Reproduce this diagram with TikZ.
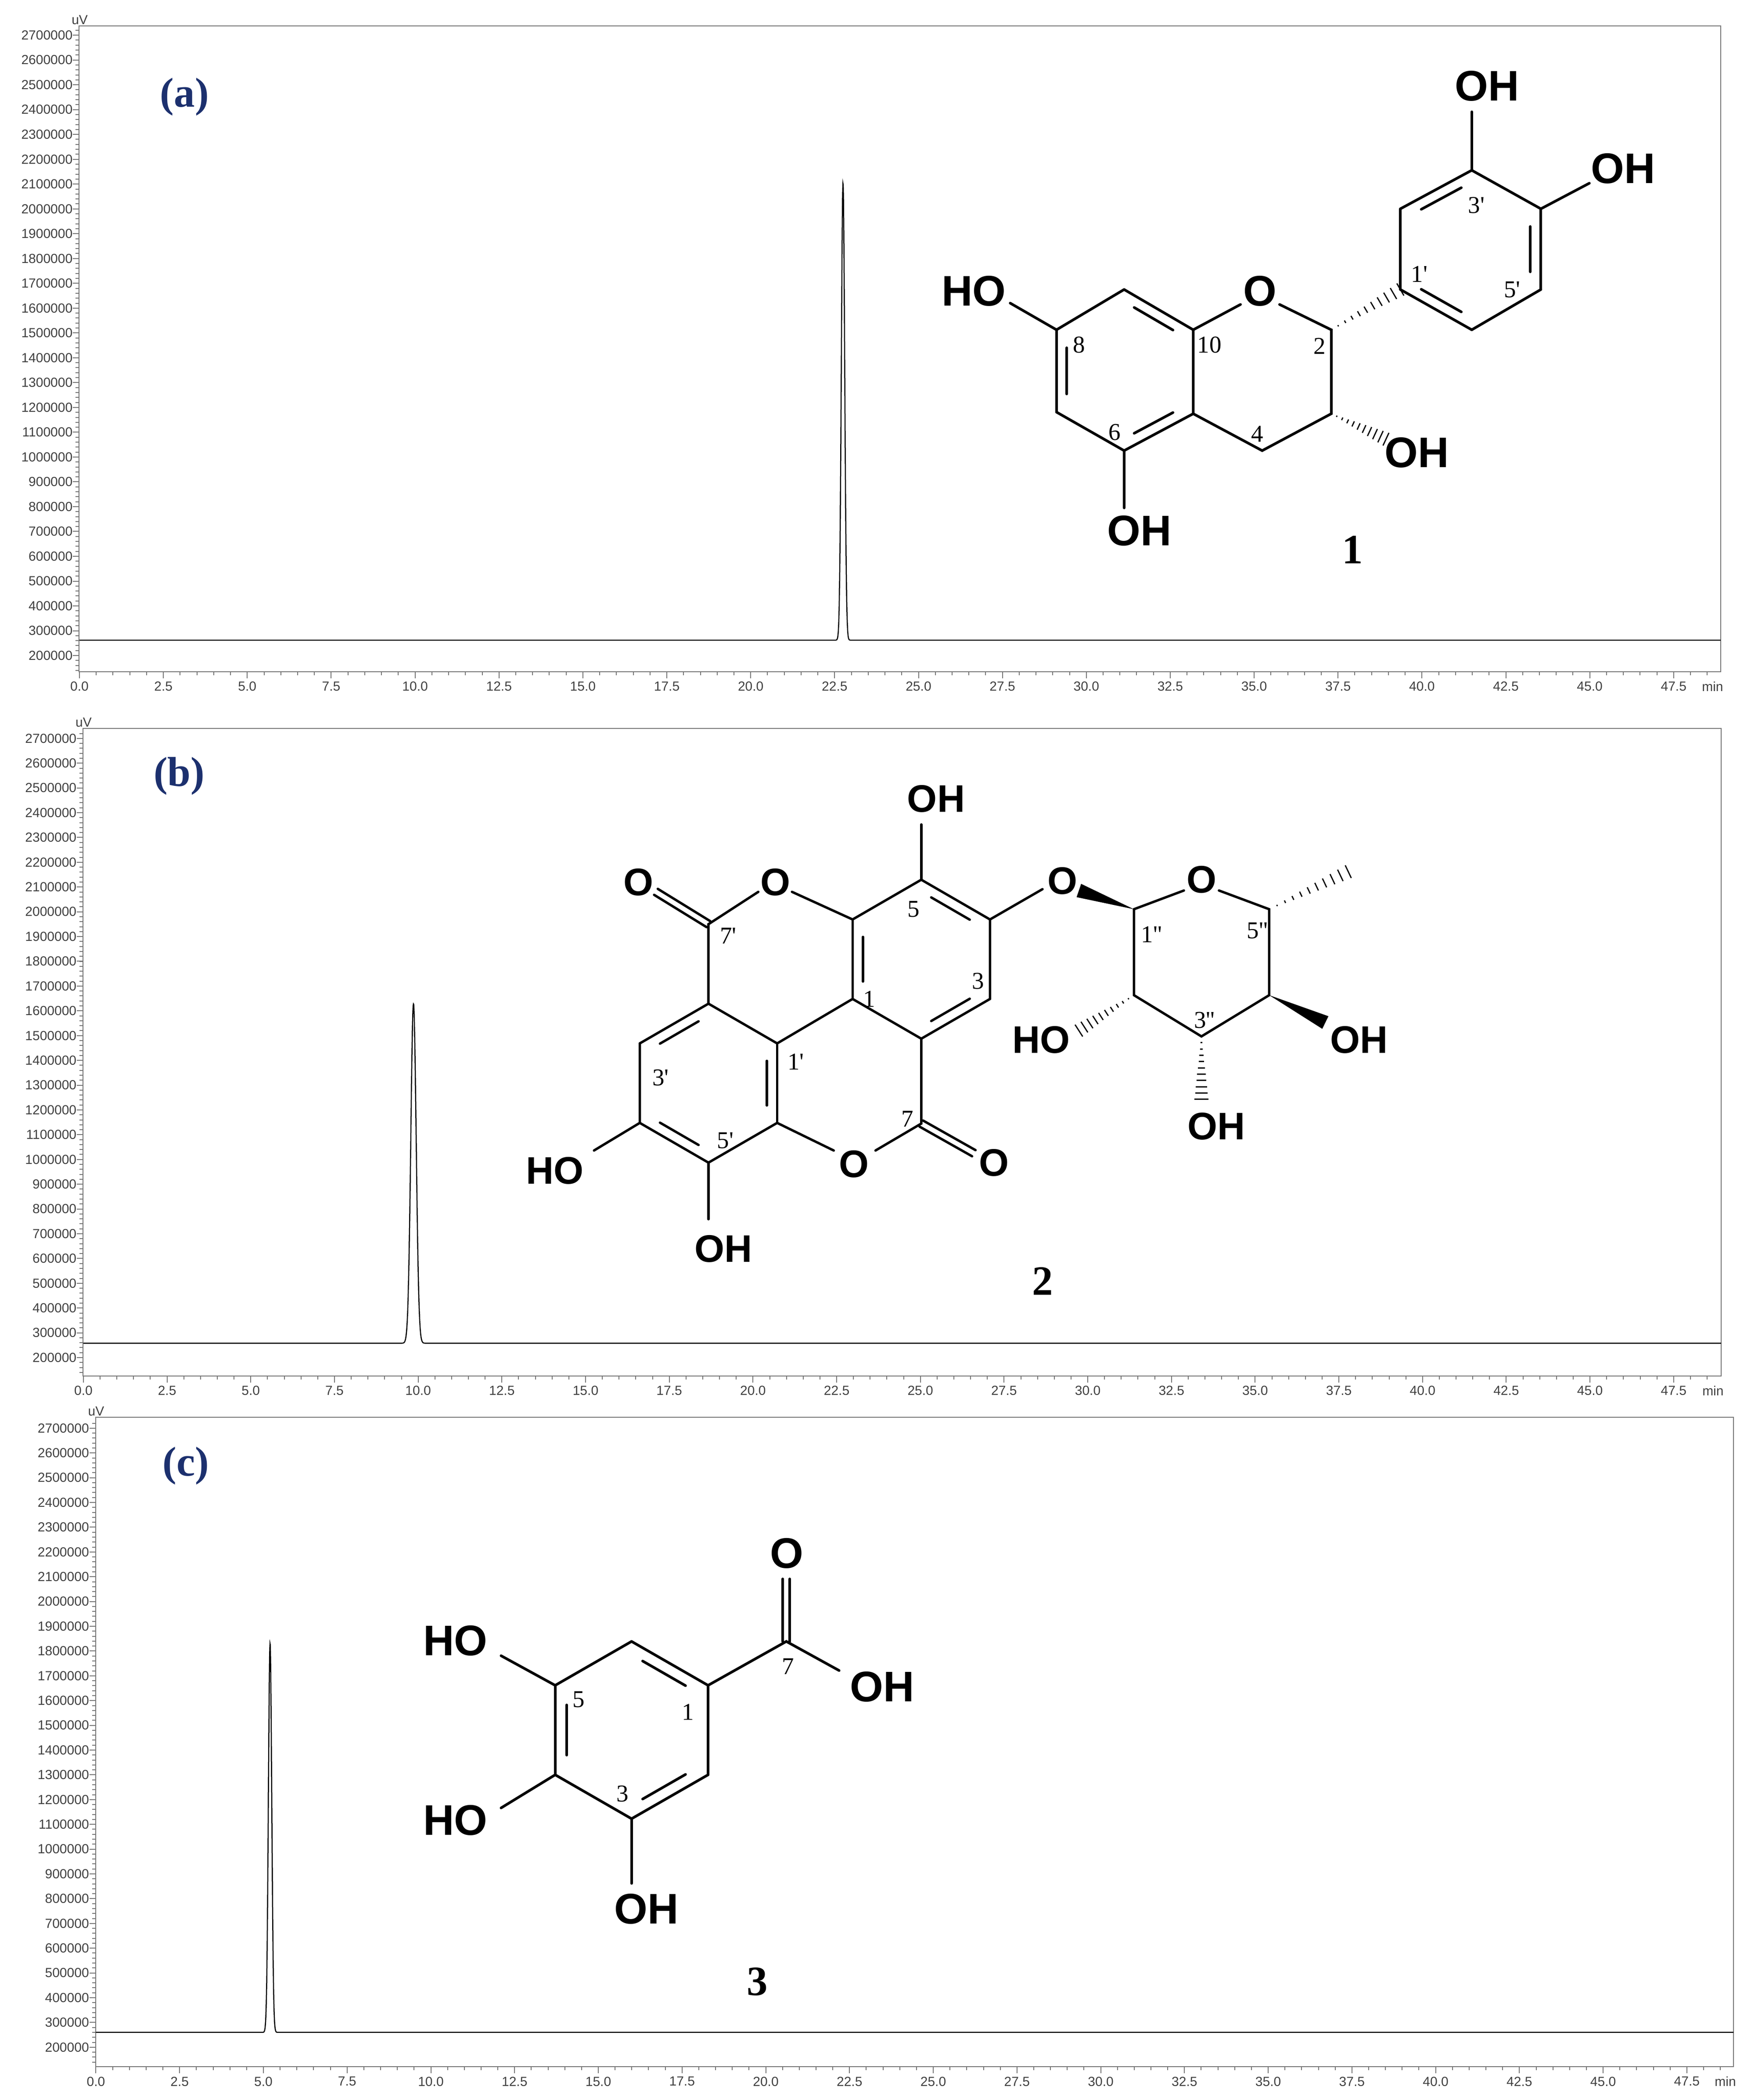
\documentclass[tikz,border=0pt]{standalone}
\usepackage{fontspec}
\setmainfont{Liberation Serif}
\newfontfamily\arialf{Liberation Sans}
\usetikzlibrary{calc}
\definecolor{navy}{RGB}{28,48,110}
\newcommand\pr{\textquotesingle}
\newcommand\chrom[9]{%
 \pgfmathsetmacro\ys{(#6-#5)/25}%
 \pgfmathsetmacro\xs{(#8-#7)/47.5}%
 \draw[frame] (#1,#3) rectangle (#2,#4);
 \foreach \v in {2,...,27}{\pgfmathsetmacro\yy{#5+(27-\v)*\ys}
   \draw[frame] (#1,\yy) -- ++(-4.5,0);
   \node[ticklab,anchor=east] at (#1-4.5,\yy) {\v00000};}
 \foreach \i in {0,...,129}{\pgfmathsetmacro\yy{#5+(27-1.4-\i*0.2)*\ys}
   \draw[frame] (#1,\yy) -- ++(-2.5,0);}
 \foreach \j in {0,...,19}{\pgfmathsetmacro\tv{2.5*\j}\pgfmathsetmacro\X{#7+\tv*\xs}
   \draw[frame] (\X,#4) -- ++(0,5);
   \node[ticklab] at (\X,#4+11) {\pgfmathprintnumber[fixed,fixed zerofill,precision=1,assume math mode=true]{\tv}};}
 \foreach \j in {0,...,97}{\pgfmathsetmacro\X{#7+0.5*\j*\xs}
   \draw[frame] (\X,#4) -- ++(0,2.7);}
 \node[ticklab] at (#2-6,#4+11) {min};
 \node[ticklab] at (#1+0.5,#3-4.5) {uV};
 \pgfmathsetmacro\yb{#5+(27-\pkb)*\ys}%
 \pgfmathsetmacro\pa{#9-0.6}\pgfmathsetmacro\pb{#9+0.6}%
 \draw[trace] (#7,\yb) -- ({#7+\pa*\xs},\yb)
   -- plot[domain=\pa:\pb,samples=181] ({#7+\x*\xs},{#5+(27-\pkb-\pkh*exp(-((\x-#9)^2)/(2*\pks*\pks)))*\ys})
   -- (#2,\yb);
}
\newcommand\dbl[3]{\draw[bond] (#1) -- (#2); \draw[bond] ($(#1)!0.17!(#2)!0.15!(#3)$) -- ($(#2)!0.17!(#1)!0.15!(#3)$);}
\newcommand\dblc[2]{\draw[bond] ($(#1)!1.6pt!90:(#2)$) -- ($(#2)!1.6pt!-90:(#1)$); \draw[bond] ($(#1)!1.6pt!-90:(#2)$) -- ($(#2)!1.6pt!90:(#1)$);}
\newcommand\hashb[3]{\foreach \t in {0.1,0.2,...,1.01}{\path ($(#1)!\t!(#2)$) coordinate (hp); \draw[line width=0.55pt] ($(hp)!{\t*#3}!90:(#1)$) -- ($(hp)!{\t*#3}!-90:(#1)$);}}
\newcommand\wedgeb[3]{\fill (#1) -- ($(#2)!#3!90:(#1)$) -- ($(#2)!#3!-90:(#1)$) -- cycle;}
\begin{document}
\begin{tikzpicture}[x=0.6137pt,y=-0.6137pt,
 frame/.style={draw=black!55,line width=0.4pt},
 trace/.style={draw=black,line width=0.5pt},
 ticklab/.style={font=\arialf\fontsize{6}{6}\selectfont,text=black!75,inner sep=0},
 bond/.style={line width=1.2pt,line cap=round},
 chem/.style={font=\arialf\bfseries\fontsize{19.5}{19.5}\selectfont,inner sep=0},
 chemb/.style={font=\arialf\bfseries\fontsize{17.5}{17.5}\selectfont,inner sep=0},
 num/.style={font=\fontsize{11}{11}\selectfont,inner sep=0},
 cnum/.style={font=\bfseries\fontsize{19}{19}\selectfont,inner sep=0},
 plab/.style={font=\bfseries\fontsize{19}{19}\selectfont,text=navy,inner sep=0}]
\useasboundingbox (0,0) rectangle (1300,1558.8);
\fill[white] (0,0) rectangle (1300,1558.8);
% ---------- chromatograms
\def\pkb{2.62}\def\pkh{18.4}\def\pks{0.05}
\chrom{58.7}{1277.5}{19.2}{498.6}{26.1}{486.6}{59}{1242.6}{22.75}
\def\pkb{2.58}\def\pkh{13.7}\def\pks{0.08}
\chrom{61.6}{1277.8}{540.7}{1021.3}{548.1}{1007.7}{61.9}{1242.6}{9.86}
\def\pkb{2.6}\def\pkh{15.7}\def\pks{0.05}
\chrom{70.9}{1287}{1052}{1534}{1060.1}{1519.6}{71.2}{1252.4}{5.2}
\node[plab] (la) at (137,72) {(a)};
\node[plab] (lb) at (133,576) {(b)};
\node[plab] (lc) at (138,1088) {(c)};
% ---------- structure 1
\coordinate (a7) at (784.4,244.8); \coordinate (a8) at (834.6,214.9);
\coordinate (a10) at (885.9,244.8); \coordinate (a4a) at (885.9,307.1);
\coordinate (a5) at (834.6,334.5); \coordinate (a6) at (784.4,305.9);
\coordinate (ac) at (835,275);
\dbl{a8}{a10}{ac} \dbl{a6}{a7}{ac} \dbl{a4a}{a5}{ac}
\draw[bond] (a7)--(a8) (a10)--(a4a) (a5)--(a6);
\draw[bond] (a7) -- (750,225); \node[chem] (t1) at (723,216) {HO};
\draw[bond] (a5) -- (834.6,377); \node[chem] (t2) at (846,394) {OH};
\node[chem] (t3) at (935.4,216) {O};
\coordinate (c2) at (988.4,244.8); \coordinate (c3) at (988.4,307.1); \coordinate (c4) at (937.1,334.5);
\draw[bond] (a10) -- (921,226); \draw[bond] (950,226) -- (c2) -- (c3) -- (c4) -- (a4a);
\coordinate (b1) at (1039.7,214.9); \coordinate (b2) at (1039.7,155); \coordinate (b3) at (1092.7,126.4);
\coordinate (b4) at (1144,155); \coordinate (b5) at (1144,214.9); \coordinate (b6) at (1092.7,244.8);
\coordinate (bc) at (1092,185);
\hashb{c2}{b1}{3.2pt}
\coordinate (o3) at (1029,326); \hashb{c3}{o3}{3.2pt}
\node[chem] (t4) at (1052,336) {OH};
\dbl{b2}{b3}{bc} \dbl{b4}{b5}{bc} \dbl{b1}{b6}{bc}
\draw[bond] (b1)--(b2) (b3)--(b4) (b5)--(b6);
\draw[bond] (b3) -- (1092.7,83); \node[chem] (t5) at (1104,64) {OH};
\draw[bond] (b4) -- (1180,136); \node[chem] (t6) at (1205,125) {OH};
\node[num] at (801,256) {8}; \node[num] at (898,256) {10}; \node[num] at (979.6,257) {2};
\node[num] at (933.6,322) {4}; \node[num] at (827.6,321) {6};
\node[num] at (1053.8,203.6) {1\pr}; \node[num] at (1096.2,152.5) {3\pr}; \node[num] at (1122.7,214.9) {5\pr};
\node[cnum] (n1) at (1004.3,408) {1};
% ---------- structure 2
\begin{scope}[bond/.style={line width=1.1pt,line cap=round}]
\coordinate (r5) at (684,653); \coordinate (r4) at (735,682.5); \coordinate (r3) at (735,741.5);
\coordinate (r2) at (684,771); \coordinate (r1) at (633,741.5); \coordinate (r6) at (633,682.5);
\coordinate (rc) at (684,712);
\coordinate (lt) at (526,745); \coordinate (lur) at (577,774.5); \coordinate (llr) at (577,833.5);
\coordinate (lb) at (526,863); \coordinate (lll) at (475,833.5); \coordinate (lul) at (475,774.5);
\coordinate (lc) at (526,804);
\dbl{r5}{r4}{rc} \dbl{r3}{r2}{rc} \dbl{r6}{r1}{rc}
\draw[bond] (r4)--(r3) (r2)--(r1) (r6)--(r5);
\dbl{lt}{lul}{lc} \dbl{lur}{llr}{lc} \dbl{lll}{lb}{lc}
\draw[bond] (lt)--(lur) (llr)--(lb) (lul)--(lll);
\coordinate (c7p) at (526,686); \coordinate (c7) at (684,834);
\draw[bond] (lt) -- (c7p) -- (563,662); \draw[bond] (588,662) -- (r6);
\node[chemb] (o1) at (575.6,655) {O};
\coordinate (o7pe) at (487,662); \dblc{c7p}{o7pe}
\node[chemb] (o2) at (474,655) {O};
\draw[bond] (r1) -- (lur);
\draw[bond] (r2) -- (c7) -- (650,854); \draw[bond] (619,854) -- (llr);
\node[chemb] (o3b) at (634,864) {O};
\coordinate (o7e) at (723,856); \dblc{c7}{o7e}
\node[chemb] (o4) at (738,863) {O};
\draw[bond] (r5) -- (684,612); \node[chemb] (t7) at (695,593) {OH};
\draw[bond] (r4) -- (774,660); \node[chemb] (o5) at (789,654) {O};
\draw[bond] (lll) -- (441,854); \node[chemb] (t8) at (412,869) {HO};
\draw[bond] (lb) -- (526,905); \node[chemb] (t9) at (537,927) {OH};
\node[num] at (540.7,694.8) {7\pr}; \node[num] at (678.2,674.9) {5}; \node[num] at (726.2,728.1) {3};
\node[num] at (645.4,741.4) {1}; \node[num] at (590.9,788) {1\pr}; \node[num] at (490.5,800) {3\pr};
\node[num] at (538.5,846.5) {5\pr}; \node[num] at (673.8,830.5) {7};
\coordinate (s1) at (841.9,674.9); \coordinate (s5) at (942.3,674.9); \coordinate (s4) at (942.3,738.7);
\coordinate (s3) at (892,769.3); \coordinate (s2) at (841.9,738.7);
\node[chemb] (o6) at (892,653) {O};
\draw[bond] (s1) -- (879,661); \draw[bond] (905,661) -- (s5) -- (s4) -- (s3) -- (s2) -- (s1);
\coordinate (wg) at (801,661); \wedgeb{s1}{wg}{3.2pt}
\coordinate (me) at (1001,647); \hashb{s5}{me}{3.2pt}
\coordinate (h2) at (801,765); \hashb{s2}{h2}{3.2pt}
\node[chemb] (t10) at (773,772) {HO};
\coordinate (h3) at (892,816); \hashb{s3}{h3}{3.2pt}
\node[chemb] (t11) at (903,836) {OH};
\coordinate (w4) at (984,759); \wedgeb{s4}{w4}{3.2pt}
\node[chemb] (t12) at (1009,772) {OH};
\node[num] at (855,693.5) {1\pr\pr}; \node[num] at (933.5,690.8) {5\pr\pr}; \node[num] at (894.2,757.3) {3\pr\pr};
\end{scope}
\node[cnum] (n2) at (774.2,951) {2};
% ---------- structure 3
\coordinate (g1) at (468.9,1218.4); \coordinate (gC) at (525.7,1251); \coordinate (gc2) at (525.7,1317.4);
\coordinate (g3) at (468.9,1350); \coordinate (g4) at (412.2,1317.4); \coordinate (g5) at (412.2,1251);
\coordinate (gcen) at (469,1284);
\dbl{g1}{gC}{gcen} \dbl{gc2}{g3}{gcen} \dbl{g5}{g4}{gcen}
\draw[bond] (gC)--(gc2) (g3)--(g4) (g5)--(g1);
\coordinate (g7) at (583.8,1218.4); \coordinate (g7o) at (583.8,1172);
\draw[bond] (gC) -- (g7) -- (623,1240);
\dblc{g7}{g7o}
\node[chem] (t13) at (584,1153) {O};
\node[chem] (t14) at (655,1252) {OH};
\draw[bond] (g5) -- (372,1229); \node[chem] (t15) at (338,1218) {HO};
\draw[bond] (g4) -- (372,1342); \node[chem] (t16) at (338,1351) {HO};
\draw[bond] (g3) -- (468.9,1398); \node[chem] (t17) at (480,1417) {OH};
\node[num] at (429.7,1261.5) {5}; \node[num] at (510.8,1270.8) {1};
\node[num] at (462.2,1331.4) {3}; \node[num] at (585.1,1237) {7};
\node[cnum] (n3) at (562.2,1471) {3};
\end{tikzpicture}
\end{document}
